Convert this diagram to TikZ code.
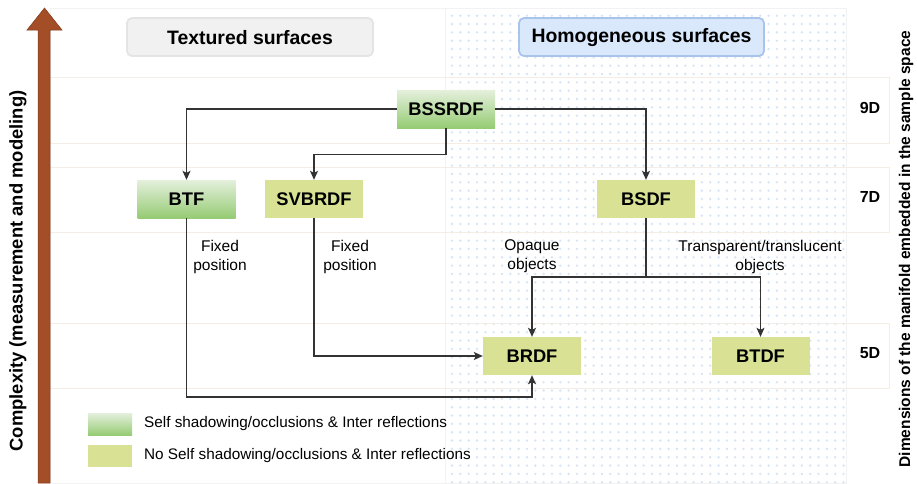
\documentclass[tikz,border=0pt]{standalone}
\usepackage{fontspec}
\setmainfont{Liberation Sans}
\usetikzlibrary{arrows.meta,calc}

\definecolor{gtop}{RGB}{228,240,220}
\definecolor{gbot}{RGB}{150,203,116}
\definecolor{flatfill}{RGB}{217,226,148}
\definecolor{linec}{RGB}{51,51,51}
\definecolor{dotc}{RGB}{214,228,248}
\definecolor{bandc}{RGB}{243,237,230}
\definecolor{arrowc}{RGB}{163,78,38}
\definecolor{arrowd}{RGB}{125,58,27}
\definecolor{hdrgray}{RGB}{241,241,241}
\definecolor{hdrgrayd}{RGB}{228,228,228}
\definecolor{hdrblue}{RGB}{218,232,252}
\definecolor{hdrblued}{RGB}{169,196,235}

\tikzset{
  fnbox/.style={rectangle, minimum width=98pt, minimum height=38pt, inner sep=0pt,
    font=\bfseries\fontsize{18.3}{20}\selectfont},
  gradbox/.style={fnbox, top color=gtop, bottom color=gbot},
  flatbox/.style={fnbox, fill=flatfill},
  conn/.style={draw=linec, line width=1.2pt, -{Stealth[length=9pt,width=8pt,inset=2pt]}},
  plainline/.style={draw=linec, line width=1.2pt},
  lbl/.style={font=\fontsize{15.5}{19}\selectfont, align=center, inner sep=0pt},
  dimlbl/.style={font=\bfseries\fontsize{16}{18}\selectfont, inner sep=0pt},
  legtxt/.style={font=\fontsize{15.3}{18}\selectfont, anchor=west, inner sep=0pt},
  band/.style={draw=bandc, line width=0.8pt},
  header/.style={rounded corners=5pt, line width=1.8pt},
}

\begin{document}
\begin{tikzpicture}[x=1pt, y=-1pt]
\useasboundingbox (0,0) rectangle (917,483);
\fill[white] (0,0) rectangle (917,483);

% light dotted backdrop of the homogeneous half
\foreach \i in {0,...,47}{
  \foreach \j in {0,...,56}{
    \fill[dotc] ({452+\i*8.33},{15.7+\j*8.33}) circle (1.3);
  }
}
\draw[draw=black!5, line width=0.6pt] (50,8) rectangle (445,483);
\draw[draw=black!5, line width=0.6pt] (445,8) rectangle (846,483);

% dimension bands
\draw[band] (50,77) rectangle (889,143);
\draw[band] (50,167) rectangle (889,232);
\draw[band] (50,323) rectangle (889,388);

% complexity axis
\filldraw[fill=arrowc, draw=arrowd, line width=0.5pt]
  (38,483) -- (38,30) -- (27,30) -- (44.5,8) -- (62,30) -- (50,30) -- (50,483) -- cycle;
\node[rotate=90, font=\bfseries\fontsize{18.4}{20}\selectfont, inner sep=0pt] (axis) at (18,271)
  {Complexity (measurement and modeling)};
\node[rotate=90, font=\bfseries\fontsize{15.5}{18}\selectfont, inner sep=0pt] (dimaxis) at (906,249)
  {Dimensions of the manifold embedded in the sample space};

% column headers
\filldraw[header, fill=hdrgray, draw=hdrgrayd] (127,18) rectangle (373,56);
\node[font=\bfseries\fontsize{19.4}{20}\selectfont] (tex) at (250,38) {Textured surfaces};
\filldraw[header, fill=hdrblue, draw=hdrblued] (519,18) rectangle (764,56);
\node[font=\bfseries\fontsize{19.4}{20}\selectfont] (hom) at (641.5,38) {Homogeneous surfaces};

% dimension labels
\node[dimlbl] (d9) at (870,108) {9D};
\node[dimlbl] (d7) at (870,197) {7D};
\node[dimlbl] (d5) at (870,353) {5D};

% reflectance functions
\node[gradbox] (BSSRDF) at (446,109) {BSSRDF};
\node[gradbox] (BTF) at (186.5,199) {BTF};
\node[flatbox] (SVBRDF) at (314,199) {SVBRDF};
\node[flatbox] (BSDF) at (646,199) {BSDF};
\node[flatbox] (BRDF) at (532,356) {BRDF};
\node[flatbox] (BTDF) at (760.5,356) {BTDF};

% bends
\coordinate (split) at (646,277);
\coordinate (low) at (532,397);

% connectors
\draw[conn] (BSSRDF.west) -| (BTF.north);
\draw[conn] (BSSRDF.south) -- ++(0,26) -| (SVBRDF.north);
\draw[conn] (BSSRDF.east) -| (BSDF.north);
\draw[plainline] (BSDF.south) -- (split);
\draw[conn] (split) -| (BRDF.north);
\draw[conn] (split) -| (BTDF.north);
\draw[conn] (SVBRDF.south) |- (BRDF.west);
\draw[conn] (BTF.south) |- (low) -- (BRDF.south);

% connector labels
\node[lbl] (fp1) at (220,256.5) {Fixed\\position};
\node[lbl] (fp2) at (350,256.5) {Fixed\\position};
\node[lbl] (opq) at (532,256.5) {Opaque\\objects};
\node[lbl] (trn) at (760,256.5) {Transparent/translucent\\objects};

% legend
\fill[top color=gtop, bottom color=gbot] (88,413) rectangle (132,435);
\node[legtxt] (leg1) at (144,424) {Self shadowing/occlusions \& Inter reflections};
\fill[flatfill] (88,445) rectangle (132,467);
\node[legtxt] (leg2) at (144,456) {No Self shadowing/occlusions \& Inter reflections};
\end{tikzpicture}
\end{document}
